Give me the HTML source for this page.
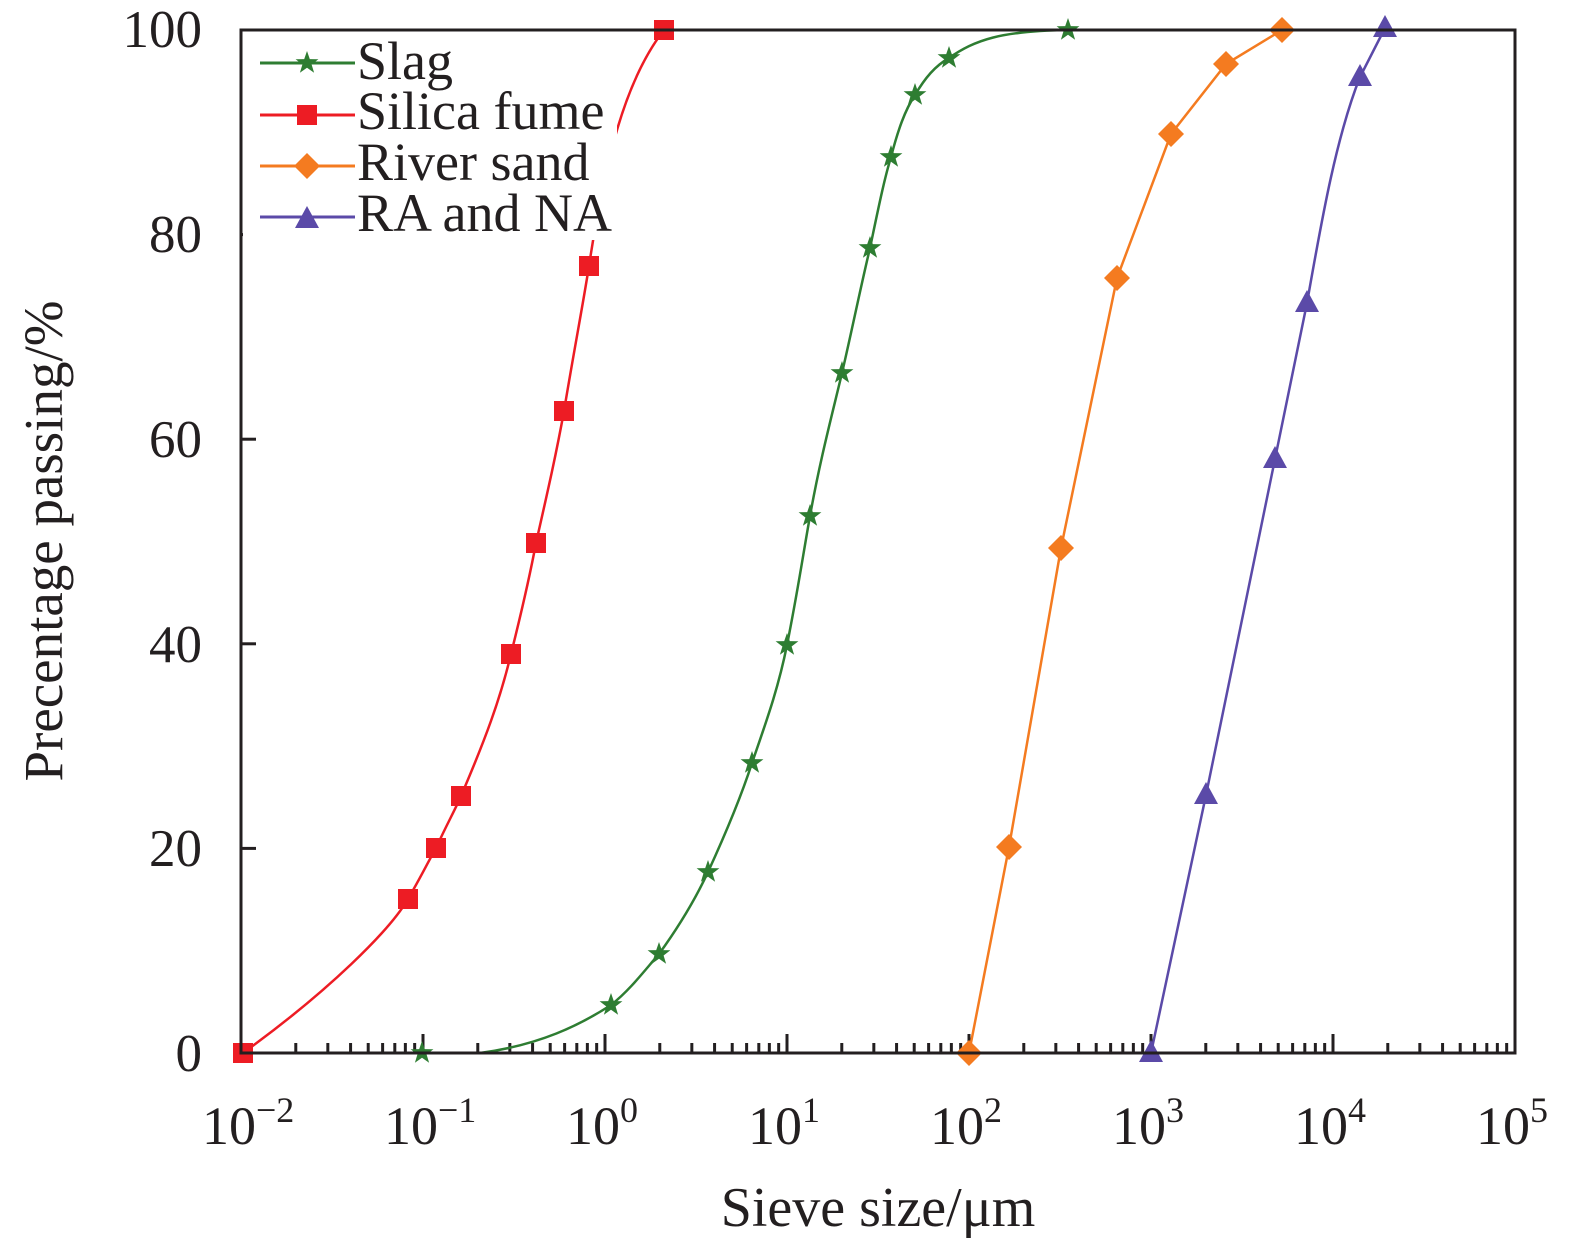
<!DOCTYPE html>
<html><head><meta charset="utf-8"><style>
html,body{margin:0;padding:0;background:#fff}
svg{display:block}
text{font-family:"Liberation Serif",serif;fill:#231f20}
</style></head><body>
<svg id="s" width="1575" height="1249" viewBox="0 0 1575 1249" xmlns="http://www.w3.org/2000/svg">
<defs>
<path id="star" d="M0,-12 L2.8,-3.9 L11.4,-3.7 L4.6,1.5 L7.1,9.7 L0,4.8 L-7.1,9.7 L-4.6,1.5 L-11.4,-3.7 L-2.8,-3.9Z" fill="#2e7d32"/>
<rect id="sq" x="-10" y="-10" width="20" height="20" fill="#ed1c24"/>
<path id="dia" d="M0,-13 L13,0 L0,13 L-13,0Z" fill="#f47b20"/>
<path id="tri" d="M0,-13 L12,9 L-12,9Z" fill="#5b4aa8"/>
</defs>
<g id="ticks" stroke="#231f20" stroke-width="3"></g>
<path d="M243,1053 C330,990 390,930 408,899 C422,875 428,862 436,848 C448,822 455,810 461,796 C485,740 500,700 511,654 C522,610 530,575 536,543 C548,490 556,455 564,411 C575,345 582,310 589,266 C605,160 625,80 664,30" fill="none" stroke="#ed1c24" stroke-width="2.5"/>
<path d="M480,1053 C540,1045 580,1025 611,1005 C630,990 645,970 659,954 C680,925 695,900 708,872 C725,835 740,800 752,763 C765,725 778,690 787,645 C798,590 803,555 810,516 C820,460 832,415 842,373 C852,330 860,290 870,248 C878,210 884,180 891,157 C898,130 905,110 915,95 C925,78 935,66 949,58 C975,40 1000,31 1068,30" fill="none" stroke="#2e7d32" stroke-width="2.5"/>
<polyline points="969,1053 1009,847 1061,548 1117,278 1171,134 1226,64 1282,30" fill="none" stroke="#f47b20" stroke-width="2.5"/>
<path d="M1151,1053 L1206,795 L1275,459 L1307,303 C1320,230 1335,140 1360,77 L1385,28" fill="none" stroke="#5b4aa8" stroke-width="2.5"/>
<g>
<use href="#sq" x="243" y="1053"/><use href="#sq" x="408" y="899"/><use href="#sq" x="436" y="848"/><use href="#sq" x="461" y="796"/><use href="#sq" x="511" y="654"/><use href="#sq" x="536" y="543"/><use href="#sq" x="564" y="411"/><use href="#sq" x="589" y="266"/><use href="#sq" x="664" y="30"/>
<use href="#star" x="422" y="1053"/><use href="#star" x="611" y="1005"/><use href="#star" x="659" y="954"/><use href="#star" x="708" y="872"/><use href="#star" x="752" y="763"/><use href="#star" x="787" y="645"/><use href="#star" x="810" y="516"/><use href="#star" x="842" y="373"/><use href="#star" x="870" y="248"/><use href="#star" x="891" y="157"/><use href="#star" x="915" y="95"/><use href="#star" x="949" y="58"/><use href="#star" x="1068" y="30"/>
<use href="#dia" x="969" y="1053"/><use href="#dia" x="1009" y="847"/><use href="#dia" x="1061" y="548"/><use href="#dia" x="1117" y="278"/><use href="#dia" x="1171" y="134"/><use href="#dia" x="1226" y="64"/><use href="#dia" x="1282" y="30"/>
<use href="#tri" x="1151" y="1053"/><use href="#tri" x="1206" y="795"/><use href="#tri" x="1275" y="459"/><use href="#tri" x="1307" y="303"/><use href="#tri" x="1360" y="77"/><use href="#tri" x="1385" y="28"/>
</g>
<rect x="243" y="32" width="374" height="208" fill="#fff"/>
<line x1="260" y1="63" x2="355" y2="63" stroke="#2e7d32" stroke-width="3"/><use href="#star" x="307" y="63"/>
<line x1="260" y1="115" x2="355" y2="115" stroke="#ed1c24" stroke-width="3"/><use href="#sq" x="307" y="115"/>
<line x1="260" y1="166" x2="355" y2="166" stroke="#f47b20" stroke-width="3"/><use href="#dia" x="307" y="166"/>
<line x1="260" y1="217" x2="355" y2="217" stroke="#5b4aa8" stroke-width="3"/><use href="#tri" x="307" y="219"/>
<g font-size="54">
<text x="357" y="79">Slag</text>
<text x="357" y="129">Silica fume</text>
<text x="357" y="180">River sand</text>
<text x="357" y="231">RA and NA</text>
</g>
<rect x="241" y="30" width="1274" height="1023" fill="none" stroke="#231f20" stroke-width="3"/>
<g font-size="53" text-anchor="end">
<text x="202" y="1071">0</text><text x="202" y="866">20</text><text x="202" y="662">40</text><text x="202" y="457">60</text><text x="202" y="252">80</text><text x="202" y="47">100</text>
</g>
<g id="xl" font-size="54"></g>
<text x="878" y="1226" font-size="56" text-anchor="middle">Sieve size/μm</text>
<text transform="translate(62,541) rotate(-90)" font-size="55" text-anchor="middle">Precentage passing/%</text>
</svg>
<script>
var g=document.getElementById('ticks'),xl=document.getElementById('xl'),ns='http://www.w3.org/2000/svg';
function L(x1,y1,x2,y2){var l=document.createElementNS(ns,'line');l.setAttribute('x1',x1);l.setAttribute('y1',y1);l.setAttribute('x2',x2);l.setAttribute('y2',y2);g.appendChild(l);}
var d=182;
for(var k=0;k<=7;k++){var x=241+k*d;L(x,1053,x,1034);
var t=document.createElementNS(ns,'text');t.setAttribute('x',x-39);t.setAttribute('y',1144);
var e=k-2;t.innerHTML='10<tspan dy="-22" font-size="36">'+(e<0?'\u2212'+(-e):e)+'</tspan>';xl.appendChild(t);
if(k<7)for(var m=2;m<10;m++){var xm=x+d*Math.log10(m);L(xm,1053,xm,1043);}}
for(var v=0;v<=100;v+=20){var y=1053-v*10.23;L(241,y,256,y);}
</script>
</body></html>
